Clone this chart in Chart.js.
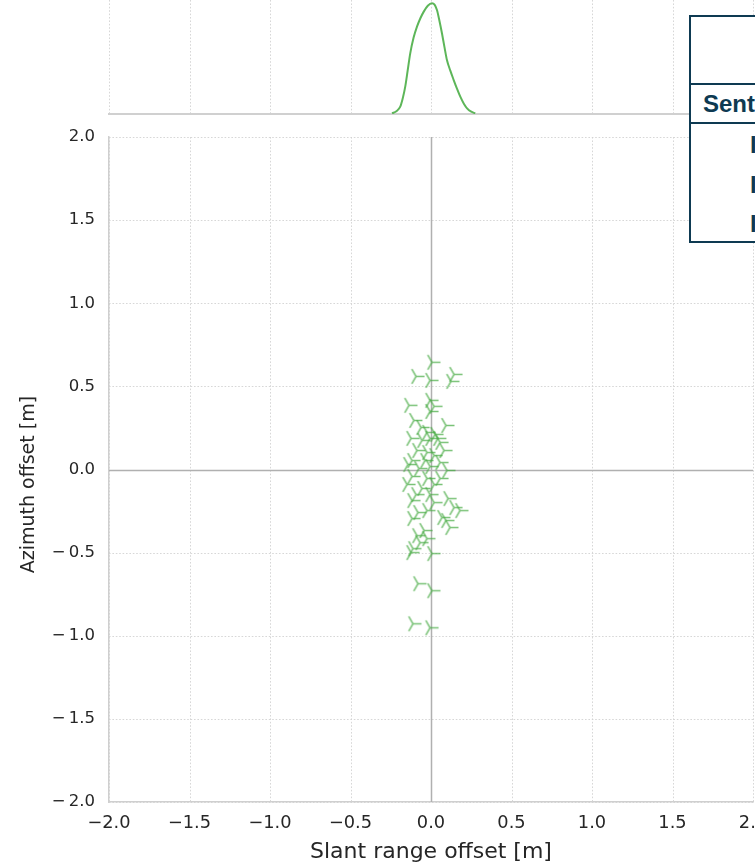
<!DOCTYPE html>
<html>
<head>
<meta charset="utf-8">
<script src="https://cdn.jsdelivr.net/npm/chart.js@4/dist/chart.umd.min.js"></script>
<style>
  html, body { margin: 0; padding: 0; background: #fff; overflow: hidden; }
  #wrap { position: relative; width: 755px; height: 863px; overflow: hidden; background: #fff; }
  #main { position: absolute; left: 0; top: 0; }
  #kde { position: absolute; left: 0; top: 0; pointer-events: none; }
  #tbl {
    position: absolute; left: 689px; top: 15px; width: 300px; height: 224px;
    border: 2px solid #0e3a52; background: #fff; box-sizing: content-box;
    font-family: "Liberation Sans", Arial, sans-serif; font-weight: bold; color: #0e3a52;
  }
  #tbl .row { position: absolute; left: 0; right: 0; white-space: nowrap; }
  #tbl .line { position: absolute; left: 0; right: 0; height: 2px; background: #0e3a52; }
</style>
</head>
<body>
<div id="wrap">
  <canvas id="main" width="800" height="870"></canvas>
  <canvas id="kde" width="800" height="130"></canvas>
  <div id="tbl"></div>
</div>
<script>
// Slant range / azimuth offsets of the corner-reflector measurements [m]
const slantRange = [
  0.006, -0.093, -0.006, 0.143, 0.124, -0.137, -0.006, 0.019, -0.006, -0.106,
  -0.062, 0.093, -0.025, 0.025, 0.043, -0.124, -0.056, -0.006, 0.056, 0.081,
  -0.087, -0.025, 0.019, -0.118, -0.037, 0.056, -0.143, -0.075, -0.006, 0.099,
  -0.118, -0.025, 0.056, -0.149, -0.056, 0.019, -0.093, -0.006, 0.106, -0.118,
  0.019, 0.143, 0.180, -0.081, -0.025, 0.068, -0.118, 0.093, 0.118, -0.043,
  -0.087, -0.025, -0.068, -0.112, -0.124, 0.006, -0.081, 0.006, -0.112, -0.006
];
const azimuth = [
  0.645, 0.560, 0.536, 0.572, 0.530, 0.386, 0.416, 0.380, 0.349, 0.295,
  0.253, 0.265, 0.223, 0.211, 0.187, 0.187, 0.175, 0.187, 0.163, 0.114,
  0.114, 0.102, 0.084, 0.054, 0.054, 0.042, 0.030, 0.006, 0.018, -0.006,
  -0.042, -0.054, -0.054, -0.090, -0.114, -0.090, -0.151, -0.151, -0.175, -0.187,
  -0.199, -0.229, -0.247, -0.259, -0.247, -0.289, -0.295, -0.307, -0.349, -0.367,
  -0.398, -0.416, -0.440, -0.476, -0.500, -0.506, -0.687, -0.729, -0.928, -0.952
];

// Kernel density estimate of the slant range offsets
const kdeX = [-0.242, -0.215, -0.191, -0.175, -0.160, -0.145, -0.129, -0.108, -0.087, -0.066,
  -0.045, -0.020, 0.006, 0.022, 0.037, 0.052, 0.068, 0.084, 0.099, 0.120, 0.141, 0.162,
  0.182, 0.204, 0.224, 0.250, 0.275];
const kdeY = [0.03, 0.12, 0.32, 0.70, 1.20, 1.90, 2.66, 3.35, 3.83, 4.20,
  4.49, 4.75, 4.86, 4.80, 4.56, 4.10, 3.54, 2.92, 2.37, 1.90, 1.49, 1.10,
  0.76, 0.45, 0.25, 0.10, 0.03];

const tickValues = [-2, -1.5, -1, -0.5, 0, 0.5, 1, 1.5, 2];
const tickLabels = ['\u22122.0', '\u22121.5', '\u22121.0', '\u22120.5', '0.0', '0.5', '1.0', '1.5', '2.0'];

const tableTitle = '';
const tableHeader = 'Sentinel-1';
const tableRows = ['IW1', 'IW2', 'IW3'];

const LEFT = 109;     // left edge of the plotting area
const RIGHT = 753;    // right edge of the plotting area
const CW = 800;       // canvas width

const GREEN = 'rgba(70, 170, 66, 0.72)';
const FONT = '"DejaVu Sans", sans-serif';
const TEXT = '#262626';

// tri_right marker
function triRight(r, color, lw) {
  const s = Math.ceil(r * 2 + 4);
  const c = document.createElement('canvas');
  c.width = s; c.height = s;
  const g = c.getContext('2d');
  const cx = s / 2, cy = s / 2;
  g.strokeStyle = color; g.lineWidth = lw; g.lineCap = 'butt';
  g.beginPath();
  g.moveTo(cx, cy); g.lineTo(cx + r, cy);
  g.moveTo(cx, cy); g.lineTo(cx - r * 0.5, cy - r * 0.866);
  g.moveTo(cx, cy); g.lineTo(cx - r * 0.5, cy + r * 0.866);
  g.stroke();
  return c;
}

function labelFor(v, gap) {
  const i = tickValues.findIndex(t => Math.abs(t - v) < 1e-9);
  if (i < 0) return '';
  return gap ? tickLabels[i].replace('\u2212', '\u2212\u2009') : tickLabels[i];
}

// dotted grid + solid zero lines
const gridPlugin = {
  id: 'dottedGrid',
  beforeDatasetsDraw(chart, args, opts) {
    const { ctx, chartArea: a, scales } = chart;
    ctx.save();
    ctx.lineWidth = 0.9;
    ctx.strokeStyle = '#d2d2d2';
    ctx.setLineDash([1.6, 1.8]);
    const zero = [];
    tickValues.forEach(v => {
      const x = Math.round(scales.x.getPixelForValue(v)) + 0.5;
      if (v === 0 && opts.zero) { zero.push(['x', x]); return; }
      ctx.beginPath(); ctx.moveTo(x, a.top); ctx.lineTo(x, a.bottom); ctx.stroke();
    });
    if (opts.horizontal) {
      tickValues.forEach(v => {
        const y = Math.round(scales.y.getPixelForValue(v)) + 0.5;
        if (v === 0 && opts.zero) { zero.push(['y', y]); return; }
        ctx.beginPath(); ctx.moveTo(a.left, y); ctx.lineTo(a.right, y); ctx.stroke();
      });
    }
    ctx.setLineDash([]);
    ctx.strokeStyle = '#b0b0b0';
    ctx.lineWidth = 1.5;
    zero.forEach(([k, p]) => {
      ctx.beginPath();
      if (k === 'x') { ctx.moveTo(p, a.top); ctx.lineTo(p, a.bottom); }
      else { ctx.moveTo(a.left, p); ctx.lineTo(a.right, p); }
      ctx.stroke();
    });
    if (opts.baseline) {
      ctx.strokeStyle = '#d0d0d0';
      ctx.lineWidth = 2;
      ctx.beginPath(); ctx.moveTo(a.left - 1, a.bottom); ctx.lineTo(CW, a.bottom); ctx.stroke();
    }
    ctx.restore();
  }
};

const points = slantRange.map((x, i) => ({ x, y: azimuth[i] }));

new Chart(document.getElementById('main'), {
  type: 'scatter',
  data: {
    datasets: [{
      data: points,
      pointStyle: triRight(8.5, GREEN, 1.5),
      pointRadius: 9,
      pointHoverRadius: 9
    }]
  },
  options: {
    responsive: false,
    animation: false,
    events: [],
    layout: { padding: { top: 137, right: CW - RIGHT, left: 0, bottom: 0 } },
    plugins: {
      legend: { display: false },
      tooltip: { enabled: false },
      dottedGrid: { horizontal: true, zero: true }
    },
    scales: {
      x: {
        type: 'linear', min: -2, max: 2,
        afterBuildTicks: s => { s.ticks = tickValues.map(v => ({ value: v })); },
        afterFit: s => { s.height = 68; },
        grid: { display: false, drawTicks: false },
        border: { display: true, color: '#cfcfcf', width: 1.5 },
        ticks: { callback: v => labelFor(v, false), padding: 11, maxRotation: 0, autoSkip: false,
                 color: TEXT, font: { family: FONT, size: 17.8 } },
        title: { display: true, text: 'Slant range offset [m]', color: TEXT,
                 font: { family: FONT, size: 22 }, padding: { top: 0, bottom: 5 } }
      },
      y: {
        type: 'linear', min: -2, max: 2,
        afterBuildTicks: s => { s.ticks = tickValues.map(v => ({ value: v })); },
        afterFit: s => { s.width = LEFT; },
        grid: { display: false, drawTicks: false },
        border: { display: true, color: '#cfcfcf', width: 1.5 },
        ticks: { callback: v => labelFor(v, true), padding: 14, autoSkip: false,
                 color: TEXT, font: { family: FONT, size: 16.5 } },
        title: { display: true, text: 'Azimuth offset [m]\u00a0\u00a0\u00a0\u00a0\u00a0', color: TEXT,
                 font: { family: FONT, size: 19 }, padding: { top: 17.5, bottom: 0 } }
      }
    }
  },
  plugins: [gridPlugin]
});

new Chart(document.getElementById('kde'), {
  type: 'line',
  data: {
    datasets: [{
      data: kdeX.map((x, i) => ({ x, y: kdeY[i] })),
      borderColor: 'rgba(84, 178, 80, 0.95)',
      borderWidth: 2,
      pointRadius: 0,
      cubicInterpolationMode: 'monotone',
      fill: false
    }]
  },
  options: {
    responsive: false,
    animation: false,
    events: [],
    layout: { padding: { top: 0, right: CW - RIGHT, left: LEFT, bottom: 16 } },
    plugins: {
      legend: { display: false },
      tooltip: { enabled: false },
      dottedGrid: { horizontal: false, zero: false, baseline: true }
    },
    scales: {
      x: { type: 'linear', min: -2, max: 2, display: false },
      y: { type: 'linear', min: 0, max: 5, display: false }
    }
  },
  plugins: [gridPlugin]
});

// summary table (partly outside the view)
(function buildTable() {
  const t = document.getElementById('tbl');
  const add = (html) => { t.insertAdjacentHTML('beforeend', html); };
  add('<div class="row" style="top:0;height:66px;">' + tableTitle + '</div>');
  add('<div class="line" style="top:66px"></div>');
  add('<div class="row" style="top:68px;height:38px;line-height:38px;font-size:24px;padding-left:12px;">' + tableHeader + '</div>');
  add('<div class="line" style="top:105px"></div>');
  tableRows.forEach((r, i) => {
    add('<div class="row" style="top:' + (109 + i * 39.5) + 'px;height:38px;line-height:38px;font-size:24px;padding-left:59px;">' + r + '</div>');
  });
})();
</script>
</body>
</html>
